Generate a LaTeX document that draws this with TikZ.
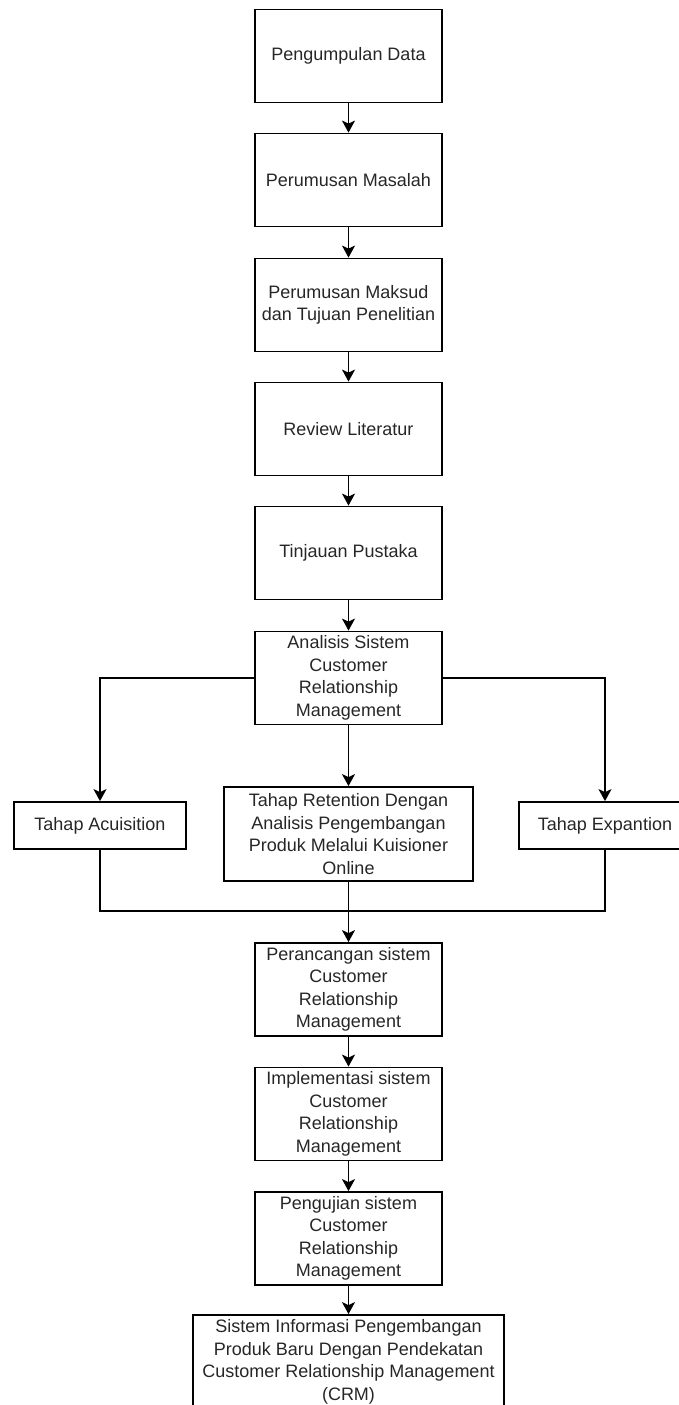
\documentclass[tikz,border=0pt]{standalone}
\usepackage{fontspec}
\setmainfont{Liberation Sans}
\usetikzlibrary{arrows.meta, positioning}
\definecolor{teks}{HTML}{262626}
\tikzstyle{kotak} = [draw, line width=1.8pt, minimum width=187pt, minimum height=93pt, align=center, text=teks, inner sep=1pt, font=\fontsize{18}{22.5}\selectfont]
\tikzstyle{panah} = [-{Stealth[length=12pt,width=13pt,inset=3pt]}, line width=1.8pt]

\begin{document}
\begin{tikzpicture}[x=1pt, y=-1pt]
	\useasboundingbox (0,0) rectangle (679,1405);
	\clip (0,0) rectangle (679,1405);

%% Tahap awal (kolom tengah)
	\node[kotak] (data) at (348.5,56) {Pengumpulan Data};
	\node[kotak] (masalah) at (348.5,180) {Perumusan Masalah};
	\node[kotak] (maksud) at (348.5,305) {Perumusan Maksud\\dan Tujuan Penelitian};
	\node[kotak] (review) at (348.5,429) {Review Literatur};
	\node[kotak] (pustaka) at (348.5,553) {Tinjauan Pustaka};
	\node[kotak] (analisis) at (348.5,678) {Analisis Sistem\\Customer\\Relationship\\Management};

	\draw[panah] (data) -- (masalah);
	\draw[panah] (masalah) -- (maksud);
	\draw[panah] (maksud) -- (review);
	\draw[panah] (review) -- (pustaka);
	\draw[panah] (pustaka) -- (analisis);

%% Tiga tahap CRM
	\node[kotak, minimum width=172pt, minimum height=47pt] (acuisition) at (100,825.5) {Tahap Acuisition};
	\node[kotak, minimum width=249pt, minimum height=94pt] (retention) at (348.5,834) {Tahap Retention Dengan\\Analisis Pengembangan\\Produk Melalui Kuisioner\\Online};
	\node[kotak, minimum width=172pt, minimum height=47pt] (expantion) at (605,825.5) {Tahap Expantion};

	\draw[panah] (analisis.west) -| (acuisition.north);
	\draw[panah] (analisis) -- (retention);
	\draw[panah] (analisis.east) -| (expantion.north);

%% Gabungan
	\coordinate (gabung) at (348.5,911);
	\draw[line width=1.8pt] (acuisition.south) |- (gabung) -| (expantion.south);

%% Tahap akhir
	\node[kotak] (rancang) at (348.5,989.5) {Perancangan sistem\\Customer\\Relationship\\Management};
	\node[kotak] (implementasi) at (348.5,1114) {Implementasi sistem\\Customer\\Relationship\\Management};
	\node[kotak] (uji) at (348.5,1238.5) {Pengujian sistem\\Customer\\Relationship\\Management};
	\node[kotak, minimum width=311pt, minimum height=94pt] (hasil) at (348.5,1362) {Sistem Informasi Pengembangan\\Produk Baru Dengan Pendekatan\\Customer Relationship Management\\(CRM)};

	\draw[panah] (retention) -- (rancang);
	\draw[panah] (rancang) -- (implementasi);
	\draw[panah] (implementasi) -- (uji);
	\draw[panah] (uji) -- (hasil);

\end{tikzpicture}
\end{document}
